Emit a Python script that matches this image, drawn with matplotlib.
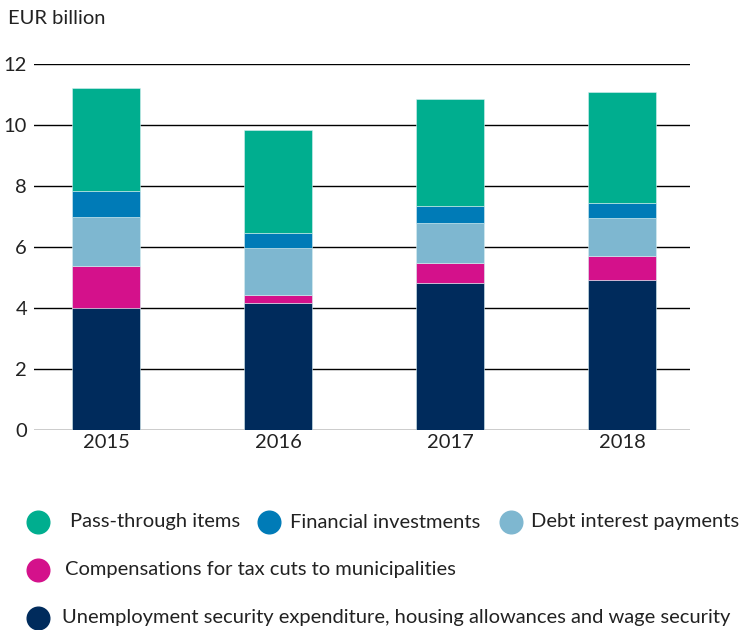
import numpy as np
import matplotlib.pyplot as plt
from matplotlib.lines import Line2D

plt.rcParams['font.family'] = ['Lato', 'DejaVu Sans']

# EUR billion, stacked from the bottom up
years = ["2015", "2016", "2017", "2018"]
unemployment = [4.00, 4.18, 4.81, 4.92]
tax_comp = [1.38, 0.26, 0.67, 0.78]
debt_interest = [1.61, 1.54, 1.31, 1.26]
fin_invest = [0.85, 0.47, 0.57, 0.49]
pass_through = [3.38, 3.40, 3.49, 3.64]

series = [
    ("Unemployment security expenditure, housing allowances and wage security", unemployment, "#002b5c"),
    ("Compensations for tax cuts to municipalities", tax_comp, "#d4118b"),
    ("Debt interest payments", debt_interest, "#7eb7d0"),
    ("Financial investments", fin_invest, "#007bb7"),
    ("Pass-through items", pass_through, "#00ae8f"),
]

FS = 14.5
TXT = "#222222"
W, H = 742, 630

fig = plt.figure(figsize=(W / 100, H / 100), dpi=100)
ax = fig.add_axes([34 / W, 200 / H, 656 / W, 366 / H])

x = np.arange(len(years))
bottom = np.zeros(len(years))
for name, vals, col in series:
    ax.bar(x, vals, width=0.4, bottom=bottom, color=col, edgecolor="#d8eef0",
           linewidth=0.4, zorder=3)
    bottom += np.array(vals)

ax.set_ylim(0, 12)
ax.set_xlim(-0.419, 3.395)
ax.set_yticks(range(0, 13, 2))
ax.set_xticks(x)
ax.set_xticklabels(years)
ax.yaxis.grid(True, color="black", linewidth=1.0, zorder=1)
ax.set_axisbelow(True)
for s in ax.spines.values():
    s.set_visible(False)
ax.tick_params(axis="both", length=0, labelsize=FS, colors=TXT)
ax.tick_params(axis="y", pad=5)
ax.tick_params(axis="x", pad=3)

fig.text(8 / W, 1 - 18 / H, "EUR billion", fontsize=FS, color=TXT,
         va="center", ha="left")

# legend laid out by hand: (label, circle x, text x, row y) in pixels
colors = {name: col for name, _, col in series}
legend_items = [
    ("Pass-through items", 38, 70, 522),
    ("Financial investments", 269, 290, 522),
    ("Debt interest payments", 511, 531, 522),
    ("Compensations for tax cuts to municipalities", 38, 65, 570),
    ("Unemployment security expenditure, housing allowances and wage security", 38, 62, 618),
]
for name, cx, tx, ypix in legend_items:
    yf = 1 - ypix / H
    fig.add_artist(Line2D([cx / W], [yf], transform=fig.transFigure,
                          linestyle="none", marker="o", markersize=16.3,
                          markerfacecolor=colors[name], markeredgecolor=colors[name]))
    fig.text(tx / W, yf, name, fontsize=FS, color=TXT, va="center", ha="left")

fig.savefig("out.png", dpi=100)
